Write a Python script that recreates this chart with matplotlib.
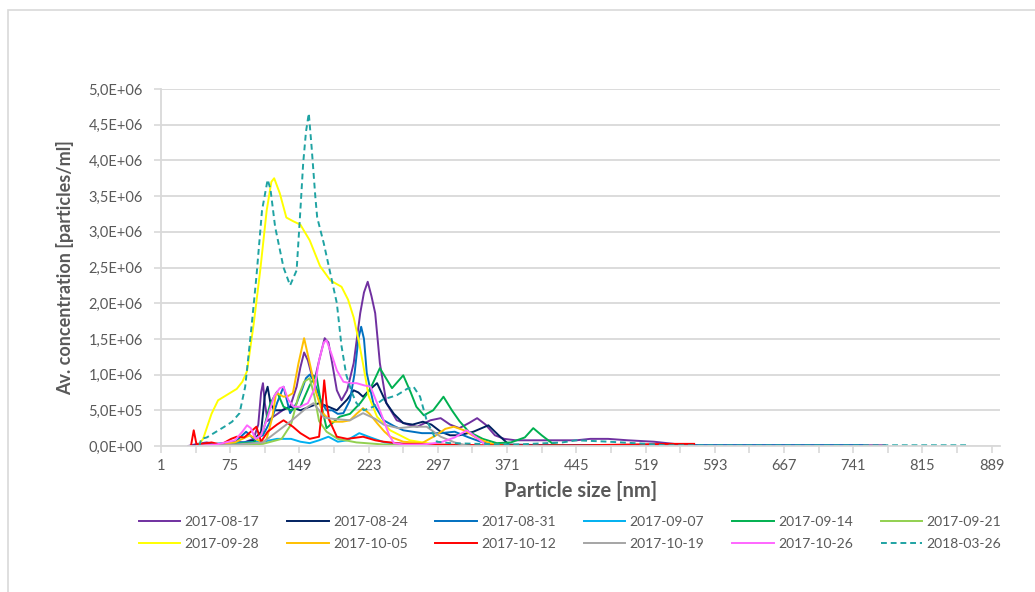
import numpy as np
import matplotlib
matplotlib.use('Agg')
import matplotlib.pyplot as plt
from matplotlib.patches import Rectangle
from matplotlib.ticker import FixedLocator, FuncFormatter

plt.rcParams['font.family'] = ['Lato', 'DejaVu Sans']

# series data: particle size [nm] and concentration [1e6 particles/ml]
labels = ['2017-08-17', '2017-08-24', '2017-08-31', '2017-09-07', '2017-09-14', '2017-09-21',
          '2017-09-28', '2017-10-05', '2017-10-12', '2017-10-19', '2017-10-26', '2018-03-26']

x_0817 = [30, 40, 50, 60, 70, 80, 90, 100, 105, 108, 110, 112, 115, 120, 131, 139, 146, 150, 154, 158,
          162, 166, 171, 176, 180, 184, 189, 194, 200, 207, 214, 218, 222, 226, 230, 235, 242, 253, 265,
          275, 289, 300, 310, 320, 330, 339, 348, 358, 368, 380, 400, 445, 460, 479, 500, 528, 549, 560,
          600, 700, 775]
y_0817 = [0, 0.03, 0.05, 0.02, 0.04, 0.06, 0.05, 0.1, 0.3, 0.75, 0.88, 0.6, 0.35, 0.4, 0.5, 0.55, 0.83,
          1.1, 1.31, 1.2, 1.0, 0.97, 1.25, 1.51, 1.45, 1.16, 0.78, 0.64, 0.78, 1.16, 1.86, 2.15, 2.3, 2.1,
          1.86, 1.16, 0.6, 0.36, 0.3, 0.27, 0.36, 0.39, 0.3, 0.25, 0.32, 0.39, 0.3, 0.15, 0.1, 0.08, 0.08,
          0.08, 0.1, 0.1, 0.08, 0.06, 0.03, 0.01, 0.01, 0.01, 0.01]

x_0824 = [35, 50, 70, 90, 100, 108, 112, 115, 118, 122, 130, 139, 150, 160, 170, 180, 189, 200, 207, 212,
          217, 225, 232, 242, 250, 260, 270, 281, 290, 300, 310, 320, 335, 351, 362, 373, 420, 470]
y_0824 = [0, 0.02, 0.03, 0.05, 0.08, 0.2, 0.7, 0.83, 0.6, 0.5, 0.5, 0.55, 0.5, 0.55, 0.6, 0.55, 0.5, 0.65,
          0.78, 0.75, 0.69, 0.8, 0.88, 0.6, 0.45, 0.32, 0.3, 0.34, 0.3, 0.2, 0.15, 0.15, 0.2, 0.29, 0.15,
          0.02, 0.01, 0.01]

x_0831 = [40, 60, 80, 92, 100, 110, 120, 125, 132, 139, 146, 152, 156, 160, 164, 168, 173, 178, 184, 190,
          196, 203, 208, 212, 215, 218, 221, 228, 239, 250, 260, 280, 300, 315, 330, 345, 360, 380, 450,
          520, 600, 700, 751]
y_0831 = [0, 0.03, 0.05, 0.2, 0.1, 0.15, 0.4, 0.6, 0.83, 0.46, 0.6, 0.8, 0.95, 1.0, 0.92, 0.78, 0.6, 0.5,
          0.5, 0.45, 0.46, 0.64, 1.02, 1.5, 1.67, 1.5, 1.02, 0.6, 0.36, 0.28, 0.22, 0.18, 0.18, 0.2, 0.12,
          0.05, 0.02, 0.01, 0.01, 0.01, 0.01, 0.01, 0.01]

x_0907 = [40, 60, 90, 110, 125, 140, 150, 160, 170, 180, 190, 200, 213, 225, 240, 260, 290, 320]
y_0907 = [0, 0.03, 0.05, 0.06, 0.1, 0.1, 0.06, 0.04, 0.08, 0.13, 0.06, 0.08, 0.18, 0.12, 0.05, 0.03,
          0.02, 0]

x_0914 = [40, 70, 100, 110, 118, 125, 132, 140, 150, 160, 167, 172, 178, 192, 203, 214, 224, 235, 248,
          260, 268, 274, 282, 292, 303, 312, 320, 330, 345, 360, 375, 390, 399, 408, 420, 430]
y_0914 = [0, 0.02, 0.05, 0.2, 0.6, 0.76, 0.55, 0.5, 0.55, 0.85, 1.0, 0.6, 0.25, 0.41, 0.45, 0.6, 0.78,
          1.09, 0.81, 0.99, 0.75, 0.55, 0.43, 0.5, 0.69, 0.5, 0.35, 0.2, 0.1, 0.04, 0.05, 0.12, 0.25,
          0.15, 0.03, 0]

x_0921 = [40, 80, 110, 130, 140, 148, 154, 160, 165, 170, 178, 190, 210, 240, 280]
y_0921 = [0, 0.01, 0.03, 0.1, 0.3, 0.7, 0.9, 0.95, 0.7, 0.35, 0.2, 0.1, 0.05, 0.02, 0]

x_0928 = [40, 46, 55, 62, 72, 82, 88, 93, 100, 107, 114, 119, 122, 128, 135, 142, 150, 160, 171, 182,
          194, 201, 207, 212, 217, 223, 232, 246, 267, 290, 310]
y_0928 = [0, 0.1, 0.45, 0.64, 0.72, 0.8, 0.9, 1.05, 1.7, 2.45, 3.3, 3.7, 3.75, 3.54, 3.2, 3.15, 3.1,
          2.88, 2.52, 2.32, 2.23, 2.05, 1.8, 1.5, 1.15, 0.7, 0.41, 0.22, 0.08, 0.03, 0]

x_1005 = [40, 60, 80, 96, 105, 110, 114, 120, 124, 128, 132, 137, 142, 148, 154, 160, 167, 174, 183, 195,
          203, 210, 217, 224, 232, 240, 246, 260, 280, 295, 305, 314, 325, 340, 355, 370]
y_1005 = [0, 0.02, 0.05, 0.15, 0.08, 0.05, 0.1, 0.4, 0.74, 0.72, 0.69, 0.7, 0.74, 1.16, 1.51, 1.16,
          0.74, 0.46, 0.34, 0.34, 0.36, 0.45, 0.53, 0.45, 0.32, 0.2, 0.13, 0.06, 0.04, 0.15, 0.24, 0.27,
          0.22, 0.1, 0.03, 0]

x_1012 = [33, 36, 39, 45, 55, 65, 76, 82, 90, 97, 103, 108, 115, 125, 132, 142, 150, 160, 170, 173,
          175.5, 178, 181, 189, 200, 217, 230, 239, 260, 300, 350, 400, 450, 500, 546, 571]
y_1012 = [0, 0.22, 0.02, 0.03, 0.05, 0.02, 0.1, 0.13, 0.12, 0.2, 0.27, 0.06, 0.2, 0.3, 0.36, 0.27,
          0.18, 0.1, 0.13, 0.5, 0.92, 0.6, 0.36, 0.13, 0.1, 0.13, 0.08, 0.06, 0.03, 0.02, 0.01, 0.01,
          0.01, 0.02, 0.03, 0.03]

x_1019 = [40, 80, 110, 120, 132, 140, 150, 158, 164, 170, 175, 185, 203, 217, 230, 239, 255, 270, 285,
          300, 315, 330]
y_1019 = [0, 0.02, 0.05, 0.15, 0.27, 0.35, 0.46, 0.55, 0.6, 0.5, 0.4, 0.38, 0.36, 0.46, 0.38, 0.3,
          0.25, 0.27, 0.27, 0.13, 0.05, 0]

x_1026 = [40, 60, 80, 88, 93, 97, 102, 108, 115, 122, 128, 132, 137, 143, 150, 158, 165, 170, 175, 178,
          183, 189, 196, 203, 210, 218, 225, 232, 239, 245, 250, 260, 280, 300, 315, 328, 340, 350]
y_1026 = [0, 0.02, 0.08, 0.2, 0.29, 0.25, 0.1, 0.15, 0.4, 0.7, 0.81, 0.83, 0.65, 0.55, 0.55, 0.6, 0.8,
          1.2, 1.45, 1.48, 1.3, 1.06, 0.9, 0.88, 0.88, 0.85, 0.83, 0.6, 0.36, 0.15, 0.04, 0.02, 0.02,
          0.05, 0.12, 0.22, 0.1, 0]

x_0326 = [42, 44, 50, 60, 70, 77, 85, 91, 94, 98, 103, 109, 115, 118, 123, 132, 139, 146, 150, 153, 156,
          159, 162, 166, 168, 175, 182, 189, 194, 199, 205, 210, 218, 228, 238, 253, 264, 271, 278, 285,
          296, 310, 340, 380, 430, 445, 480, 520, 540, 600, 700, 800, 865]
y_0326 = [0, 0.1, 0.12, 0.2, 0.28, 0.34, 0.46, 0.83, 1.2, 1.7, 2.37, 3.3, 3.73, 3.6, 3.07, 2.5, 2.25,
          2.46, 3.3, 3.96, 4.4, 4.66, 4.19, 3.49, 3.2, 2.84, 2.42, 2.0, 1.4, 1.0, 0.75, 0.6, 0.5, 0.55,
          0.65, 0.71, 0.8, 0.83, 0.69, 0.36, 0.06, 0.04, 0.03, 0.02, 0.05, 0.08, 0.06, 0.03, 0.01, 0.01,
          0.01, 0.01, 0.01]

xs = [x_0817, x_0824, x_0831, x_0907, x_0914, x_0921, x_0928, x_1005, x_1012, x_1019, x_1026, x_0326]
ys = [y_0817, y_0824, y_0831, y_0907, y_0914, y_0921, y_0928, y_1005, y_1012, y_1019, y_1026, y_0326]
colors = ['#7030a0', '#002060', '#0070c0', '#00b0f0', '#00b050', '#92d050',
          '#ffff00', '#ffc000', '#ff0000', '#a5a5a5', '#ff66ff', '#1fa3a3']

x_ticks = [1, 75, 149, 223, 297, 371, 445, 519, 593, 667, 741, 815, 889]
y_ticks = [0, 0.5e6, 1.0e6, 1.5e6, 2.0e6, 2.5e6, 3.0e6, 3.5e6, 4.0e6, 4.5e6, 5.0e6]

text_col = '#595959'
grid_col = '#d9d9d9'


def sci_comma(v, pos):
    # Excel style 5,0E+06 with decimal comma
    if v <= 0:
        return '0,0E+00'
    exp = int(np.floor(np.log10(v)))
    return ('%.1fE+%02d' % (v / 10 ** exp, exp)).replace('.', ',')


fig = plt.figure(figsize=(10.35, 5.92), dpi=100)
ax = fig.add_axes([161/1035, 146/592, 839/1035, 357/592])

# outer chart border
fig.patches.append(Rectangle((8/1035, -0.1), 1.2, 1 - 10/592 + 0.1, transform=fig.transFigure,
                             fill=False, edgecolor='#d9d9d9', linewidth=1.2))

handles = []
for i in range(len(labels)):
    if labels[i] == '2018-03-26':
        h, = ax.plot(xs[i], np.array(ys[i]) * 1e6, color=colors[i], linewidth=1.4,
                     linestyle=(0, (3, 2)), label=labels[i])
    else:
        h, = ax.plot(xs[i], np.array(ys[i]) * 1e6, color=colors[i], linewidth=1.4, label=labels[i])
    handles.append(h)

ax.set_xlim(1, 898)
ax.set_ylim(0, 5.0e6)
ax.xaxis.set_major_locator(FixedLocator(x_ticks))
ax.xaxis.set_minor_locator(FixedLocator([t + 37 for t in x_ticks[:-1]]))
ax.yaxis.set_major_locator(FixedLocator(y_ticks))
ax.yaxis.set_major_formatter(FuncFormatter(sci_comma))

ax.grid(axis='y', color=grid_col, linewidth=1.3)
ax.set_axisbelow(True)
for s in ['top', 'right']:
    ax.spines[s].set_visible(False)
for s in ['left', 'bottom']:
    ax.spines[s].set_color(grid_col)
    ax.spines[s].set_linewidth(1.3)

ax.tick_params(axis='both', which='both', color=grid_col, width=1.2, length=5, labelcolor=text_col,
               labelsize=10.5)
ax.tick_params(axis='x', pad=4)
ax.tick_params(axis='y', pad=8)

ax.set_xlabel('Particle size [nm]', fontsize=14.5, fontweight='bold', color=text_col, labelpad=6)
ax.set_ylabel('Av. concentration [particles/ml]', fontsize=13, fontweight='bold', color=text_col,
              labelpad=10)

# legend filled row-wise like the original
order = [0, 6, 1, 7, 2, 8, 3, 9, 4, 10, 5, 11]
fig.legend([handles[k] for k in order], [labels[k] for k in order], ncol=6, loc='center',
           bbox_to_anchor=(570/1035, 1 - 533/592), frameon=False, fontsize=10,
           handlelength=3.0, handletextpad=0.3, columnspacing=2.0, labelspacing=0.7,
           labelcolor=text_col)

fig.savefig('out.png', dpi=100)
